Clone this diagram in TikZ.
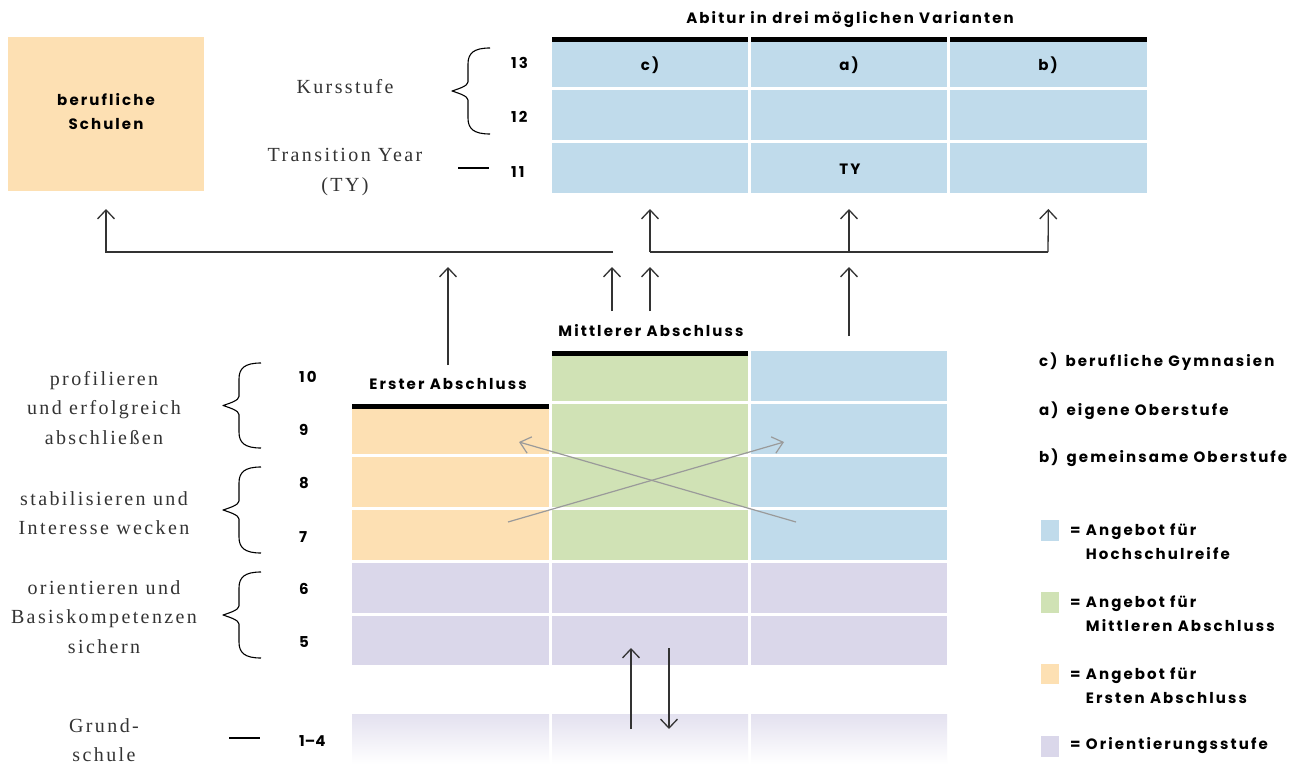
\documentclass[tikz,border=0pt]{standalone}
\usepackage{fontspec}
\usetikzlibrary{arrows.meta}
\newfontfamily\popfont[LetterSpace=14]{Poppins Bold}
\newfontfamily\serfont[LetterSpace=12]{Liberation Serif}
\definecolor{cblue}{HTML}{C0DBEB}
\definecolor{cgreen}{HTML}{D0E2B5}
\definecolor{corange}{HTML}{FDE0B3}
\definecolor{cpurple}{HTML}{DAD7EA}
\definecolor{arr}{HTML}{333333}
\definecolor{garr}{HTML}{9A9A9A}
\newcommand{\mycell}[6]{\node[cellbox, fill=#6, minimum width={(#4-#2)*1pt}, minimum height={(#5-#3)*1pt}] (#1) at ({(#2+#4)/2},{(#3+#5)/2}) {};}
\newcommand{\mybrace}[4]{\draw[brc] ({#1+38},#3) .. controls ({#1+22},#3) and ({#1+16},{#3+5}) .. ({#1+16},{#3+16}) -- ({#1+16},{(#3+#4)/2-9}) .. controls ({#1+16},{(#3+#4)/2-5}) and ({#1+6},{(#3+#4)/2-2}) .. (#1,{(#3+#4)/2}) .. controls ({#1+6},{(#3+#4)/2+2}) and ({#1+16},{(#3+#4)/2+5}) .. ({#1+16},{(#3+#4)/2+9}) -- ({#1+16},{#4-16}) .. controls ({#1+16},{#4-5}) and ({#1+22},#4) .. ({#1+38},#4);}
\begin{document}
\begin{tikzpicture}[x=1pt,y=-1pt,
  cellbox/.style={inner sep=0pt, outer sep=0pt, draw=none},
  lbl/.style={font=\popfont\fontsize{15}{24}\selectfont, text=black, inner sep=0pt, align=center},
  num/.style={lbl, anchor=west},
  leg/.style={lbl, anchor=west, align=left},
  ser/.style={font=\serfont\fontsize{20}{29.5}\selectfont, text=black!80, align=center, inner sep=0pt},
  conn/.style={draw=arr, line width=1.3pt, -{Straight Barb[length=9pt,width=17pt]}},
  hline/.style={draw=arr, line width=1.3pt},
  gconn/.style={draw=garr, line width=1.2pt, -{Straight Barb[length=10pt,width=17pt]}},
  brc/.style={draw=black, line width=1.1pt, line join=round}
]
\useasboundingbox (0,0) rectangle (1307,765);
\fill[white] (0,0) rectangle (1307,765);

% berufliche Schulen
\mycell{beruf}{8}{37}{204}{191}{corange}
\node[lbl] (berufT) at (106,112) {berufliche\\Schulen};

% top table
\node[lbl] (title) at (850,20) {Abitur in drei möglichen Varianten};
\mycell{c13}{552}{42}{748}{87}{cblue}
\mycell{a13}{751}{42}{947}{87}{cblue}
\mycell{b13}{950}{42}{1147}{87}{cblue}
\mycell{c12}{552}{90}{748}{140}{cblue}
\mycell{a12}{751}{90}{947}{140}{cblue}
\mycell{b12}{950}{90}{1147}{140}{cblue}
\mycell{c11}{552}{143}{748}{193}{cblue}
\mycell{a11}{751}{143}{947}{193}{cblue}
\mycell{b11}{950}{143}{1147}{193}{cblue}
\fill[black] (552,37) rectangle (748,42.5);
\fill[black] (751,37) rectangle (947,42.5);
\fill[black] (950,37) rectangle (1147,42.5);
\node[lbl] (lc) at (650,65) {c)};
\node[lbl] (la) at (849,65) {a)};
\node[lbl] (lb) at (1048,65) {b)};
\node[lbl] (lty) at (850,169) {TY};

% top left labels
\node[ser] (kurs) at (345,87) {Kursstufe};
\node[ser] (trans) at (345,172) {Transition Year\\(TY)};
\mybrace{452}{490}{48}{134}
\draw[brc] (458,168) -- (489,168);
\node[num] (n13) at (511,63) {13};
\node[num] (n12) at (511,117) {12};
\node[num] (n11) at (511,172) {11};

% lower table
\node[lbl] (mittl) at (651,331) {Mittlerer Abschluss};
\node[lbl] (erster) at (448,384) {Erster Abschluss};
\mycell{g10}{552}{351}{748}{401}{cgreen}
\mycell{h10}{751}{351}{947}{401}{cblue}
\mycell{o9}{352}{404}{549}{454}{corange}
\mycell{g9}{552}{404}{748}{454}{cgreen}
\mycell{h9}{751}{404}{947}{454}{cblue}
\mycell{o8}{352}{457}{549}{507}{corange}
\mycell{g8}{552}{457}{748}{507}{cgreen}
\mycell{h8}{751}{457}{947}{507}{cblue}
\mycell{o7}{352}{510}{549}{560}{corange}
\mycell{g7}{552}{510}{748}{560}{cgreen}
\mycell{h7}{751}{510}{947}{560}{cblue}
\mycell{p6a}{352}{563}{549}{613}{cpurple}
\mycell{p6b}{552}{563}{748}{613}{cpurple}
\mycell{p6c}{751}{563}{947}{613}{cpurple}
\mycell{p5a}{352}{616}{549}{665}{cpurple}
\mycell{p5b}{552}{616}{748}{665}{cpurple}
\mycell{p5c}{751}{616}{947}{665}{cpurple}
\fill[black] (552,351) rectangle (748,356);
\fill[black] (352,404) rectangle (549,409);
\shade[top color=cpurple!75!white, bottom color=white] (352,714) rectangle (549,764);
\shade[top color=cpurple!75!white, bottom color=white] (552,714) rectangle (748,764);
\shade[top color=cpurple!75!white, bottom color=white] (751,714) rectangle (947,764);

% left labels lower
\node[ser] (prof) at (104,408) {profilieren\\und erfolgreich\\abschließen};
\node[ser] (stab) at (104,513) {stabilisieren und\\Interesse wecken};
\node[ser] (orie) at (104,617) {orientieren und\\Basiskompetenzen\\sichern};
\node[ser] (grund) at (104,740) {Grund-\\schule};
\mybrace{223}{261}{363}{448}
\mybrace{223}{261}{467}{553}
\mybrace{223}{261}{572}{658}
\draw[brc] (229,738) -- (260,738);
\node[num] (n10) at (299,377) {10};
\node[num] (n9) at (299,430) {9};
\node[num] (n8) at (299,483) {8};
\node[num] (n7) at (299,537) {7};
\node[num] (n6) at (299,589) {6};
\node[num] (n5) at (299,642) {5};
\node[num] (n14) at (299,741) {1\addfontfeature{LetterSpace=0}–4};

% connectors top
\coordinate (hl) at (613,252);
\coordinate (hc) at (650,252);
\coordinate (ha) at (849,252);
\coordinate (hb) at (1048,252);
\draw[conn, shorten >=18pt] (hl) -| (beruf.south);
\draw[hline] (hc) -- (hb);
\draw[conn, shorten >=16pt] (hc) -- (c11.south);
\draw[conn, shorten >=16pt] (ha) -- (a11.south);
\draw[conn, shorten >=16pt] (hb) -- (b11.south);

% connectors from lower part
\coordinate (tE) at (448,267);
\coordinate (tM1) at (612,267);
\coordinate (tM2) at (650,267);
\coordinate (tH) at (849,267);
\coordinate (sM1) at (612,311);
\coordinate (sM2) at (650,311);
\draw[conn, shorten <=13pt] (erster.north) -- (tE);
\draw[conn] (sM1) -- (tM1);
\draw[conn] (sM2) -- (tM2);
\draw[conn, shorten <=15pt] (h10.north) -- (tH);

% crossing gray arrows
\coordinate (x1s) at (796,522);
\coordinate (x1e) at (519,442);
\coordinate (x2s) at (508,522);
\coordinate (x2e) at (784,442);
\draw[gconn] (x1s) -- (x1e);
\draw[gconn] (x2s) -- (x2e);

% up/down arrows
\coordinate (u1) at (631,729);
\coordinate (u2) at (631,648);
\coordinate (d1) at (669,648);
\coordinate (d2) at (669,729);
\draw[conn] (u1) -- (u2);
\draw[conn] (d1) -- (d2);

% legend
\node[leg] (lgc) at (1039,362) {c)\hspace{8pt}berufliche Gymnasien};
\node[leg] (lga) at (1039,411) {a)\hspace{8pt}eigene Oberstufe};
\node[leg] (lgb) at (1039,458) {b)\hspace{8pt}gemeinsame Oberstufe};
\mycell{sw1}{1041}{520}{1059}{541}{cblue}
\mycell{sw2}{1041}{592}{1059}{613}{cgreen}
\mycell{sw3}{1041}{664}{1059}{684}{corange}
\mycell{sw4}{1041}{736}{1059}{757}{cpurple}
\node[leg, anchor=north west] (lg1) at (1070,524) {= Angebot für\\\phantom{=\ }Hochschulreife};
\node[leg, anchor=north west] (lg2) at (1070,596) {= Angebot für\\\phantom{=\ }Mittleren Abschluss};
\node[leg, anchor=north west] (lg3) at (1070,668) {= Angebot für\\\phantom{=\ }Ersten Abschluss};
\node[leg] (lg4) at (1070,746) {= Orientierungsstufe};
\end{tikzpicture}
\end{document}
